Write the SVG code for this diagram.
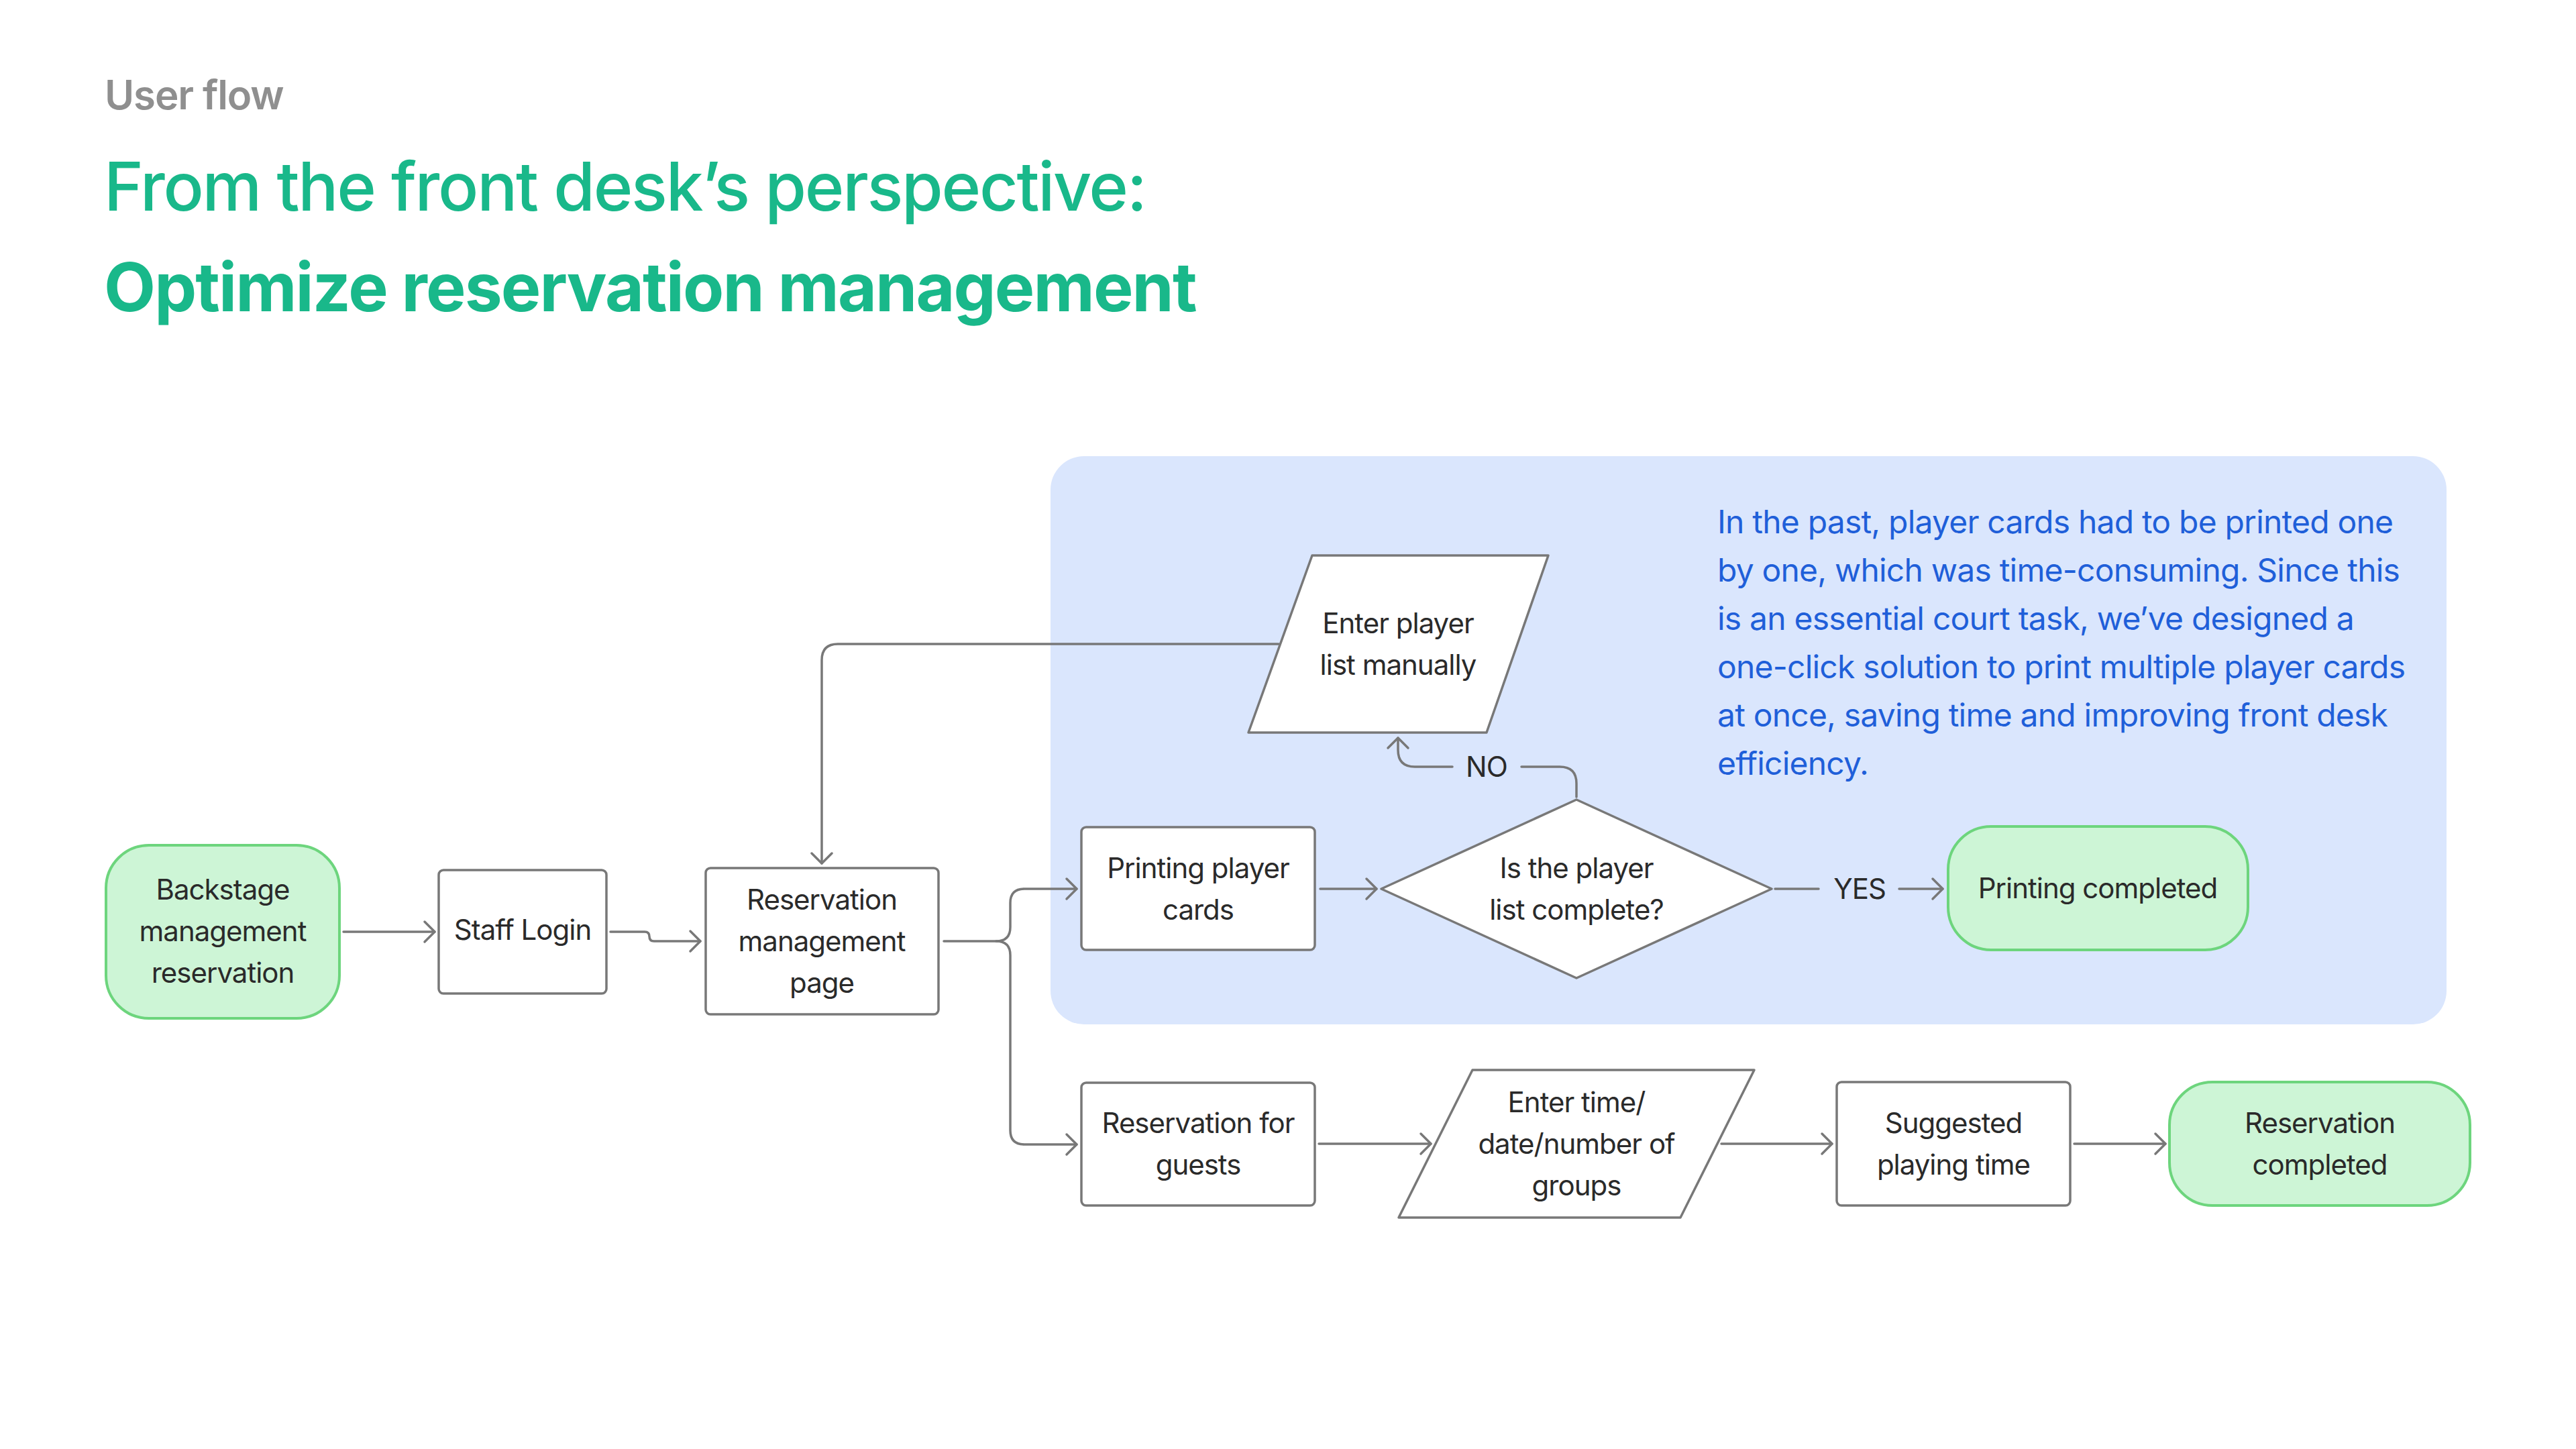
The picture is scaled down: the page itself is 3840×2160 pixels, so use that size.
<svg xmlns="http://www.w3.org/2000/svg" width="3840" height="2160" viewBox="0 0 3840 2160">
<defs>
<style>
.t{font-family:Inter,"Noto Sans","Liberation Sans",sans-serif;font-size:42px;fill:#2a2a2a;text-anchor:middle;letter-spacing:-1px}
.box{fill:#ffffff;stroke:#787878;stroke-width:3.5;stroke-linejoin:round}
.term{fill:#cdf5d6;stroke:#6dd57d;stroke-width:4}
.c{fill:none;stroke:#787878;stroke-width:3.5;stroke-linecap:round;stroke-linejoin:round}
.note{font-family:Inter,"Noto Sans","Liberation Sans",sans-serif;font-size:48px;fill:#1f5fd9;letter-spacing:-0.8px}
.h{font-family:Inter,"Noto Sans","Liberation Sans",sans-serif}
</style>
<marker id="ah" markerUnits="userSpaceOnUse" markerWidth="40" markerHeight="40" viewBox="-20 -20 40 40" refX="0" refY="0" orient="auto">
<path d="M-15,-15 L0,0 L-15,15" fill="none" stroke="#787878" stroke-width="3.5" stroke-linecap="round" stroke-linejoin="round"/>
</marker>
</defs>
<rect width="3840" height="2160" fill="#ffffff"/>
<g id="header">
<text class="h" x="156" y="163" font-size="60" font-weight="600" fill="#8f8f8f" letter-spacing="-1.1">User flow</text>
<text class="h" x="155" y="314" font-size="100" font-weight="500" fill="#19b88a" letter-spacing="-2.3">From the front desk’s perspective:</text>
<text class="h" x="155" y="464" font-size="100" font-weight="700" fill="#19b88a" letter-spacing="-1.9">Optimize reservation management</text>
</g>
<g id="panel">
<rect x="1566" y="680" width="2081" height="847" rx="50" fill="#dae6fd"/>
<text class="note" x="2560" y="795">In the past, player cards had to be printed one</text>
<text class="note" x="2560" y="867">by one, which was time-consuming. Since this</text>
<text class="note" x="2560" y="939">is an essential court task, we’ve designed a</text>
<text class="note" x="2560" y="1011">one-click solution to print multiple player cards</text>
<text class="note" x="2560" y="1083">at once, saving time and improving front desk</text>
<text class="note" x="2560" y="1155">efficiency.</text>
</g>
<g id="connectors">
<path class="c" d="M512,1389 H648" marker-end="url(#ah)"/>
<path class="c" d="M910,1389 H961 Q968,1389 968,1396 Q968,1403 975,1403 H1044" marker-end="url(#ah)"/>
<path class="c" d="M1906,960 H1249 Q1225,960 1225,984 V1287" marker-end="url(#ah)"/>
<path class="c" d="M1407,1403 H1485 Q1506,1403 1506,1382 V1346 Q1506,1325 1527,1325 H1605" marker-end="url(#ah)"/>
<path class="c" d="M1485,1403 Q1506,1403 1506,1424 V1685 Q1506,1706 1527,1706 H1605" marker-end="url(#ah)"/>
<path class="c" d="M1968,1325 H2052" marker-end="url(#ah)"/>
<path class="c" d="M2350,1188 V1168 Q2350,1143 2325,1143 H2268"/>
<path class="c" d="M2165,1143 H2109 Q2084,1143 2084,1118 V1100" marker-end="url(#ah)"/>
<text class="t" x="2216" y="1158">NO</text>
<path class="c" d="M2646,1325 H2711"/>
<text class="t" x="2772" y="1340">YES</text>
<path class="c" d="M2831,1325 H2896" marker-end="url(#ah)"/>
<path class="c" d="M1966,1705 H2133" marker-end="url(#ah)"/>
<path class="c" d="M2566,1705 H2731" marker-end="url(#ah)"/>
<path class="c" d="M3092,1705 H3228" marker-end="url(#ah)"/>
</g>
<g id="n-backstage">
<rect class="term" x="158" y="1260" width="348" height="258" rx="64"/>
<text class="t" x="332" y="1341">Backstage</text>
<text class="t" x="332" y="1403">management</text>
<text class="t" x="332" y="1465">reservation</text>
</g>
<g id="n-staff-login">
<rect class="box" x="654" y="1297" width="250" height="184" rx="7"/>
<text class="t" x="779" y="1401">Staff Login</text>
</g>
<g id="n-reservation-page">
<rect class="box" x="1052" y="1294" width="347" height="218" rx="7"/>
<text class="t" x="1225" y="1356">Reservation</text>
<text class="t" x="1225" y="1418">management</text>
<text class="t" x="1225" y="1480">page</text>
</g>
<g id="n-enter-player-list">
<path class="box" d="M1956,828 H2308 L2216,1092 H1861 Z"/>
<text class="t" x="2084" y="944">Enter player</text>
<text class="t" x="2084" y="1006">list manually</text>
</g>
<g id="n-printing-cards">
<rect class="box" x="1612" y="1233" width="348" height="183" rx="7"/>
<text class="t" x="1786" y="1309">Printing player</text>
<text class="t" x="1786" y="1371">cards</text>
</g>
<g id="n-list-complete">
<path class="box" d="M2059,1325 L2350,1192 L2641,1325 L2350,1458 Z"/>
<text class="t" x="2350" y="1309">Is the player</text>
<text class="t" x="2350" y="1371">list complete?</text>
</g>
<g id="n-printing-completed">
<rect class="term" x="2904" y="1232" width="447" height="184" rx="64"/>
<text class="t" x="3127" y="1339">Printing completed</text>
</g>
<g id="n-reservation-guests">
<rect class="box" x="1612" y="1614" width="348" height="183" rx="7"/>
<text class="t" x="1786" y="1689">Reservation for</text>
<text class="t" x="1786" y="1751">guests</text>
</g>
<g id="n-enter-time">
<path class="box" d="M2195,1595 H2615 L2505,1815 H2085 Z"/>
<text class="t" x="2350" y="1658">Enter time/</text>
<text class="t" x="2350" y="1720">date/number of</text>
<text class="t" x="2350" y="1782">groups</text>
</g>
<g id="n-suggested">
<rect class="box" x="2738" y="1613" width="348" height="184" rx="7"/>
<text class="t" x="2912" y="1689">Suggested</text>
<text class="t" x="2912" y="1751">playing time</text>
</g>
<g id="n-reservation-completed">
<rect class="term" x="3234" y="1613" width="448" height="184" rx="64"/>
<text class="t" x="3458" y="1689">Reservation</text>
<text class="t" x="3458" y="1751">completed</text>
</g>
</svg>
